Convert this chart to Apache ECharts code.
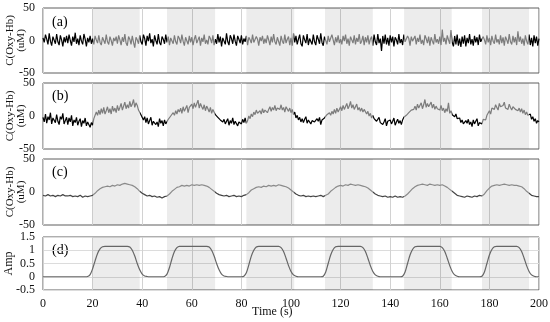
<!DOCTYPE html>
<html><head><meta charset="utf-8">
<script src="https://cdn.jsdelivr.net/npm/echarts@6/dist/echarts.min.js"></script>
<style>html,body{margin:0;padding:0;background:#fff}#c{width:550px;height:322px}</style>
</head><body><div id="c"></div>
<script>
// ---- data ----
const shadeStart = [20, 50, 82, 113.7, 145.6, 177];
const shadeEnd   = [39, 69.4, 101.3, 133, 164.8, 196];
const panelLabels = ['(a)', '(b)', '(c)', '(d)'];
const stepNoisy = 0.5;   // seconds between samples in panels a, b
const stepSmooth = 1;    // seconds between samples in panels c, d

// (a) C(Oxy-Hb), uM, every 0.5 s
const oxyA = [
 4,-3,9,2,-6,11,-1,-8,6,3,-5,10,-2,-7,8,1,-9,5,-3,7,
 -4,9,0,-8,6,-2,12,-5,3,-7,8,-1,-6,10,2,-9,4,-3,7,-5,
 3,-6,7,1,-4,8,-3,-7,5,2,-5,9,-2,-6,6,0,-8,4,-1,6,
 -5,8,1,-7,5,-2,10,-4,-8,6,2,-6,7,-3,-11,5,1,-5,8,-2,
 -6,9,3,-8,7,-1,11,-4,2,-9,8,0,-6,10,-3,-7,6,2,-5,9,
 -3,6,-7,4,1,-5,8,-2,-6,7,3,-4,9,-1,-8,5,2,-6,7,-3,
 5,-7,2,8,-4,-1,6,-8,4,-2,9,-5,1,-6,7,3,-4,8,-7,2,
 -5,10,-3,6,-9,4,1,-6,11,-2,-7,8,3,-5,9,-1,-8,7,2,-4,
 8,-6,3,-2,7,-7,5,1,-4,9,-3,-6,6,2,-8,5,-1,7,-5,3,
 -4,8,1,-7,6,-3,10,-2,-6,5,3,-8,7,-1,-5,9,-4,2,6,-7,
 4,-8,11,-3,7,-6,2,9,-5,-9,8,1,-4,10,-7,3,6,-6,9,-2,
 -7,8,2,-5,11,-3,-8,6,4,-6,7,-2,-5,9,1,-7,5,-3,8,-4,
 2,-6,7,-1,9,-5,3,-8,6,1,-4,8,-6,4,-2,10,-5,-1,7,-7,
 5,-3,8,-6,2,6,-8,9,-2,-7,10,-4,3,-16,7,-5,9,-6,4,-8,
 8,-3,6,-9,5,1,-6,10,-4,2,-7,9,-2,-5,7,3,-8,6,-1,-4,
 7,-6,4,-2,9,-5,1,-7,8,3,-4,6,-8,5,-1,-6,10,-3,2,-5,
 6,-7,17,-2,4,-6,8,1,-5,16,-3,-9,7,-6,9,-8,3,-10,6,-5,
 8,-9,4,-4,10,-6,2,-8,7,-3,5,-7,9,-2,-5,6,1,-6,8,-3,
 4,-7,7,-1,-5,9,-3,2,-6,8,-4,5,-8,6,1,-5,10,-2,-6,7,
 -3,5,-7,14,-2,6,-5,3,-8,8,-1,-6,9,-7,4,-9,8,-4,6,-8,
 3
];

// (b) C(Oxy-Hb), uM, every 0.5 s
const oxyB = [
 -2,-9,3,-11,-1,-6,5,-12,-3,0,-10,2,-8,-13,-1,-5,4,-12,-7,-2,
 -13,-3,-9,1,-15,-6,-10,-2,-14,-8,-4,-16,-7,-11,-3,-15,-9,-6,-17,-10,
 -14,-4,-6,6,1,9,2,11,4,13,3,8,14,5,11,3,15,7,12,5,
 16,8,13,19,9,15,21,11,17,12,22,14,18,25,13,20,16,9,12,2,
 4,-6,-1,-10,-3,-12,-7,-2,-14,-8,-5,-13,-9,-16,-4,-11,-7,-15,-6,-12,
 -13,-5,-7,0,-3,5,1,8,3,10,6,12,4,14,7,9,16,5,13,10,
 18,11,20,13,16,24,12,19,14,10,17,8,15,11,6,13,4,10,7,2,
 5,-2,1,-6,-3,-9,-5,-12,-8,-4,-14,-7,-11,-3,-13,-8,-5,-15,-9,-6,
 -12,-5,-10,-3,-11,-7,0,-4,3,-1,6,2,9,4,1,8,3,11,5,9,
 12,5,10,14,7,13,9,16,8,12,15,10,17,9,13,6,14,11,7,12,
 5,10,2,6,-3,1,-6,-2,-9,-4,-10,-5,-1,-11,-6,-3,-12,-7,-4,-9,
 -11,-4,-8,-2,-13,-6,-9,-3,-5,2,-1,5,1,7,3,10,4,12,6,9,
 14,8,16,10,13,19,11,15,22,12,17,10,14,18,9,13,7,12,6,10,
 9,3,7,0,4,-3,1,-4,-1,-8,-5,-2,-10,-7,-13,-9,-4,-15,-8,-11,
 -6,-12,-8,-3,-14,-9,-5,-11,-7,-13,-6,-2,-5,1,-1,5,2,9,6,10,
 15,9,18,12,14,20,11,17,25,13,19,14,16,21,12,18,10,15,11,14,
 9,16,8,12,5,11,7,20,4,8,2,5,-1,3,-4,-7,-3,-10,-6,-12,
 -14,-7,-11,-5,-13,-9,-16,-6,-12,-8,-4,-15,-10,-7,-12,-5,-3,-6,1,-2,
 8,3,12,15,10,17,13,9,19,14,11,16,21,12,15,10,18,13,9,14,
 16,10,13,8,12,6,11,4,9,2,6,1,-2,3,-5,-1,-8,-4,-11,-7,
 -9
];

// (c) C(Oxy-Hb), uM, every 1 s
const oxyC = [
 -5,-6,-4,-6,-5,-7,-5,-6,-4,-6,
 -6,-5,-7,-6,-7,-5,-8,-6,-7,-6,
 -5,-2,2,5,7,8,9,8,10,9,
 11,10,12,13,12,11,10,8,5,1,
 -2,-4,-6,-5,-7,-6,-8,-7,-9,-7,
 -6,-3,1,4,7,8,10,9,10,9,
 11,10,11,10,11,10,9,7,4,1,
 -2,-4,-5,-6,-5,-7,-6,-5,-7,-6,
 -7,-5,-4,-1,3,5,7,8,7,9,
 8,10,9,10,9,11,10,9,8,6,
 3,0,-3,-5,-6,-5,-7,-6,-7,-6,
 -7,-6,-5,-7,-5,-3,1,4,7,9,
 10,9,11,10,12,11,10,11,10,9,
 8,6,3,0,-3,-5,-6,-7,-6,-8,
 -7,-8,-6,-8,-7,-8,-6,-3,1,5,
 8,10,11,12,11,10,12,11,10,11,
 10,11,9,7,4,1,-2,-5,-6,-7,
 -8,-6,-7,-8,-6,-7,-5,-6,-3,2,
 6,9,10,11,10,11,12,11,10,11,
 10,10,9,8,5,1,-2,-5,-6,-7,
 -7
];

// (d) Amp, every 1 s
const amp = [
 0,0,0,0,0,0,0,0,0,0,0,0,0,0,0,0,0,0,
 0.01,0.08,0.3,0.6,0.88,1.05,1.13,1.15,
 1.15,1.15,1.15,1.15,1.15,1.15,1.15,1.15,1.15,
 1.12,1.0,0.78,0.5,0.26,0.1,0.03,0.01,
 0,0,0,0,0,0,
 0.01,0.1,0.35,0.68,0.95,1.1,1.15,
 1.15,1.15,1.15,1.15,1.15,1.15,1.15,1.15,1.15,1.15,1.15,
 1.12,1.0,0.78,0.5,0.26,0.1,0.03,0.01,
 0,0,0,0,0,0,
 0.02,0.15,0.45,0.78,1.0,1.12,1.15,
 1.15,1.15,1.15,1.15,1.15,1.15,1.15,1.15,
 1.1,0.95,0.7,0.42,0.2,0.07,0.02,
 0,0,0,0,0,0,0,0,0,0,
 0.02,0.18,0.5,0.82,1.03,1.13,1.15,
 1.15,1.15,1.15,1.15,1.15,1.15,1.15,1.15,1.15,
 1.1,0.95,0.7,0.42,0.2,0.07,0.02,
 0,0,0,0,0,0,0,0,0,
 0.02,0.18,0.5,0.82,1.03,1.13,1.15,
 1.15,1.15,1.15,1.15,1.15,1.15,1.15,1.15,1.15,
 1.1,0.95,0.7,0.42,0.2,0.07,0.02,
 0,0,0,0,0,0,0,0,0,
 0.02,0.18,0.5,0.82,1.03,1.13,1.15,
 1.15,1.15,1.15,1.15,1.15,1.15,1.15,1.15,
 1.1,0.95,0.7,0.42,0.2,0.07,0.02,
 0,0
];

// ---- chart ----
const FONT = "'Liberation Serif', 'Times New Roman', serif";
const pairs = (arr, step) => arr.map((v, i) => [i * step, v]);
const areas = shadeStart.map((s, i) => [{ xAxis: s }, { xAxis: shadeEnd[i] }]);
const markArea = { silent: true, itemStyle: { color: 'rgba(0,0,0,0.075)' }, data: areas };

const grids = [
  { top: 8, height: 65 },
  { top: 83, height: 66 },
  { top: 159, height: 66 },
  { top: 237, height: 53 }
].map(g => Object.assign({
  left: 43, right: 11, show: true, borderColor: '#5e5e5e', borderWidth: 1,
  backgroundColor: 'transparent', containLabel: false, outerBoundsMode: 'none'
}, g));

const xAxes = grids.map((g, i) => ({
  type: 'value', gridIndex: i, min: 0, max: 200, interval: 20,
  axisLine: { show: false }, axisTick: { show: false },
  splitLine: { show: true, lineStyle: { color: '#d2d2d2', width: 1 } },
  axisLabel: { show: i === 3, fontFamily: FONT, fontSize: 12, color: '#111', margin: 8 }
}));

const yBase = (i) => ({
  type: 'value', gridIndex: i,
  axisLine: { show: false }, axisTick: { show: false },
  axisLabel: { fontFamily: FONT, fontSize: 12, color: '#111', margin: 8 },
  nameLocation: 'middle', nameRotate: 90, nameMoveOverlap: false,
  nameTextStyle: { fontFamily: FONT, fontSize: 11, color: '#111', lineHeight: 11 }
});
const yAxes = [0, 1, 2].map(i => Object.assign(yBase(i), {
  min: -50, max: 50, interval: 50, splitLine: { show: false },
  name: 'C(Oxy-Hb)\n(uM)', nameGap: 16
}));
yAxes.push(Object.assign(yBase(3), {
  min: -0.5, max: 1.5, interval: 0.5,
  splitLine: { show: true, lineStyle: { color: '#dcdcdc' } },
  name: 'Amp', nameGap: 28,
  nameTextStyle: { fontFamily: FONT, fontSize: 12, color: '#111' }
}));

const lineSeries = (data, i, extra) => Object.assign({
  type: 'line', xAxisIndex: i, yAxisIndex: i, data: data,
  showSymbol: false, symbol: 'none', animation: false,
  lineStyle: { width: 1.2 }, markArea: markArea
}, extra || {});

const pieces = (col) => shadeStart.map((s, i) => ({ gte: s, lt: shadeEnd[i], color: col }));

const option = {
  animation: false,
  backgroundColor: '#fff',
  grid: grids,
  xAxis: xAxes,
  yAxis: yAxes,
  visualMap: [
    { type: 'piecewise', show: false, dimension: 0, seriesIndex: [0, 1], pieces: pieces('#7c7c7c'), outOfRange: { color: '#000' } },
    { type: 'piecewise', show: false, dimension: 0, seriesIndex: 2, pieces: pieces('#8a8a8a'), outOfRange: { color: '#444' } }
  ],
  series: [
    lineSeries(pairs(oxyA, stepNoisy), 0),
    lineSeries(pairs(oxyB, stepNoisy), 1),
    lineSeries(pairs(oxyC, stepSmooth), 2),
    lineSeries(pairs(amp, stepSmooth), 3, { smooth: 0.3, lineStyle: { width: 1.2, color: '#666' } })
  ],
  graphic: [
    { type: 'text', left: 52, top: 15, style: { text: panelLabels[0], font: '14px ' + FONT, fill: '#000' } },
    { type: 'text', left: 52, top: 89, style: { text: panelLabels[1], font: '14px ' + FONT, fill: '#000' } },
    { type: 'text', left: 52, top: 165, style: { text: panelLabels[2], font: '14px ' + FONT, fill: '#000' } },
    { type: 'text', left: 52, top: 243, style: { text: panelLabels[3], font: '14px ' + FONT, fill: '#000' } },
    { type: 'text', left: 252, top: 306, style: { text: 'Time (s)', font: '12px ' + FONT, fill: '#111' } }
  ]
};

const chart = echarts.init(document.getElementById('c'), null, { renderer: 'canvas' });
chart.setOption(option);
</script>
</body></html>
